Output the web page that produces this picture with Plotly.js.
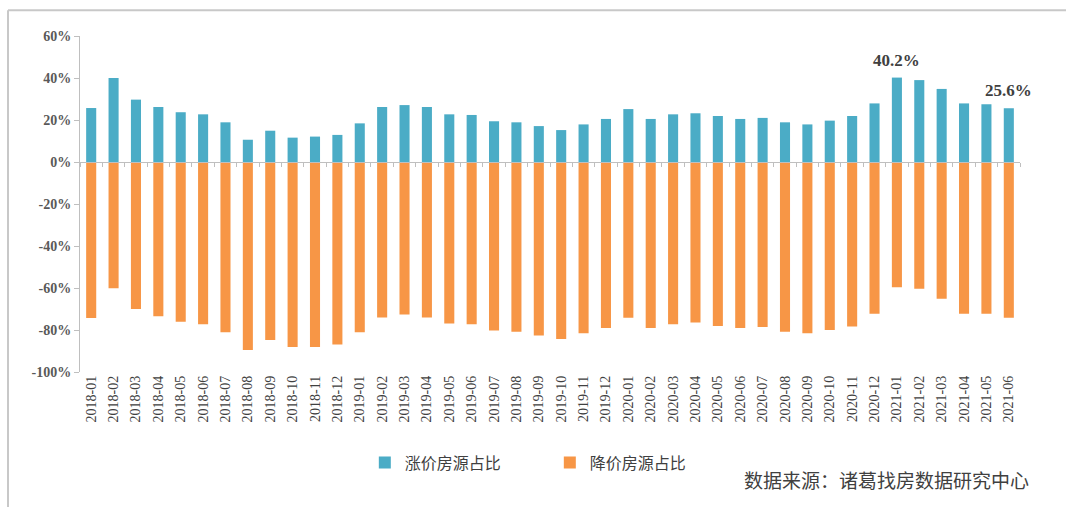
<!DOCTYPE html>
<html>
<head>
<meta charset="utf-8">
<script src="https://cdn.plot.ly/plotly-3.0.1.min.js"></script>
<style>html,body{margin:0;padding:0;background:#fff;}#chart{width:1066px;height:507px;}</style>
</head>
<body>
<div id="chart"></div>
<script>
const months = ["2018-01","2018-02","2018-03","2018-04","2018-05","2018-06","2018-07","2018-08","2018-09","2018-10","2018-11","2018-12",
"2019-01","2019-02","2019-03","2019-04","2019-05","2019-06","2019-07","2019-08","2019-09","2019-10","2019-11","2019-12",
"2020-01","2020-02","2020-03","2020-04","2020-05","2020-06","2020-07","2020-08","2020-09","2020-10","2020-11","2020-12",
"2021-01","2021-02","2021-03","2021-04","2021-05","2021-06"];
const riseShare = [25.7,40.0,29.7,26.2,23.7,22.7,18.9,10.6,14.9,11.6,12.1,12.9,
18.4,26.2,27.1,26.2,22.7,22.4,19.4,18.9,17.1,15.2,17.9,20.5,
25.2,20.5,22.7,23.2,21.9,20.5,21.0,18.9,17.9,19.7,21.9,27.9,
40.2,39.0,34.8,27.9,27.5,25.6];
const fallShare = [-74.3,-60.1,-70.0,-73.4,-76.1,-77.3,-81.1,-89.5,-84.8,-88.1,-88.1,-86.9,
-81.1,-74.0,-72.6,-74.0,-76.9,-77.3,-80.2,-80.8,-82.6,-84.3,-81.6,-79.1,
-74.2,-79.1,-77.3,-76.4,-78.1,-79.1,-78.6,-80.8,-81.6,-80.0,-78.3,-72.3,
-59.6,-60.4,-65.1,-72.3,-72.3,-74.2];
const seriesNames = ["涨价房源占比","降价房源占比"];
const yTickVals = [60,40,20,0,-20,-40,-60,-80,-100];
const yTickText = ["60%","40%","20%","0%","-20%","-40%","-60%","-80%","-100%"];
const labelled = [{x:"2021-01", y:40.2, text:"40.2%"},{x:"2021-06", y:25.6, text:"25.6%"}];
const sourceText = "数据来源：诸葛找房数据研究中心";

const serif = "'Liberation Serif', 'Times New Roman', serif";
const cjk = "'Noto Sans CJK SC', sans-serif";
const traces = [
  {type:"bar", x:months, y:riseShare, name:seriesNames[0], marker:{color:"#4BACC6"}, xaxis:"x", yaxis:"y"},
  {type:"bar", x:months, y:fallShare, name:seriesNames[1], marker:{color:"#F79646"}, xaxis:"x2", yaxis:"y"}
];
const layout = {
  width:1066, height:507,
  margin:{l:80, r:46, t:36, b:135},
  paper_bgcolor:"#fff", plot_bgcolor:"#fff",
  showlegend:true,
  bargap:0.55,
  xaxis:{type:"category", categoryorder:"array", categoryarray:months, range:[-0.5,41.5],
    showline:false, ticks:"", tickangle:-90, tickfont:{family:serif, size:14, color:"#404040"},
    showgrid:false, zeroline:false, fixedrange:true},
  xaxis2:{type:"category", categoryorder:"array", categoryarray:months, range:[-0.5,41.5],
    overlaying:"x", anchor:"free", position:0.625, showline:true, linecolor:"#bfbfbf", linewidth:1,
    ticks:"outside", ticklen:4, tickcolor:"#bfbfbf", tickson:"boundaries", showticklabels:false,
    showgrid:false, zeroline:false},
  yaxis:{range:[-100,60], tickvals:yTickVals, ticktext:yTickText, showline:true, linecolor:"#bfbfbf",
    linewidth:1, ticks:"outside", ticklen:5, tickcolor:"#bfbfbf", showgrid:false, zeroline:false,
    tickfont:{family:serif, size:14, color:"#595959", weight:"bold"}},
  legend:{orientation:"h", x:0.303, xanchor:"left", y:-0.27, yanchor:"middle",
    font:{family:cjk, size:16, color:"#404040"}, traceorder:"normal", itemwidth:30, entrywidth:140},
  annotations: labelled.map(a=>({x:a.x, y:a.y, xref:"x", yref:"y", text:a.text, showarrow:false,
      yanchor:"bottom", yshift:6, font:{family:serif, size:17, color:"#404040", weight:"bold"}}))
    .concat([{xref:"paper", yref:"paper", x:1.012, y:-0.32, xanchor:"right", yanchor:"middle",
      text:sourceText, showarrow:false, font:{family:cjk, size:19, color:"#404040"}}]),
  shapes:[
    {type:"line", xref:"paper", yref:"paper", x0:-0.0766, x1:1.06, y0:1.077, y1:1.077, line:{color:"#c8c8c8", width:2}},
    {type:"line", xref:"paper", yref:"paper", x0:-0.0766, x1:-0.0766, y0:1.077, y1:-0.41, line:{color:"#c8c8c8", width:2}}
  ]
};
Plotly.newPlot("chart", traces, layout, {displayModeBar:false, staticPlot:true});
</script>
</body>
</html>
